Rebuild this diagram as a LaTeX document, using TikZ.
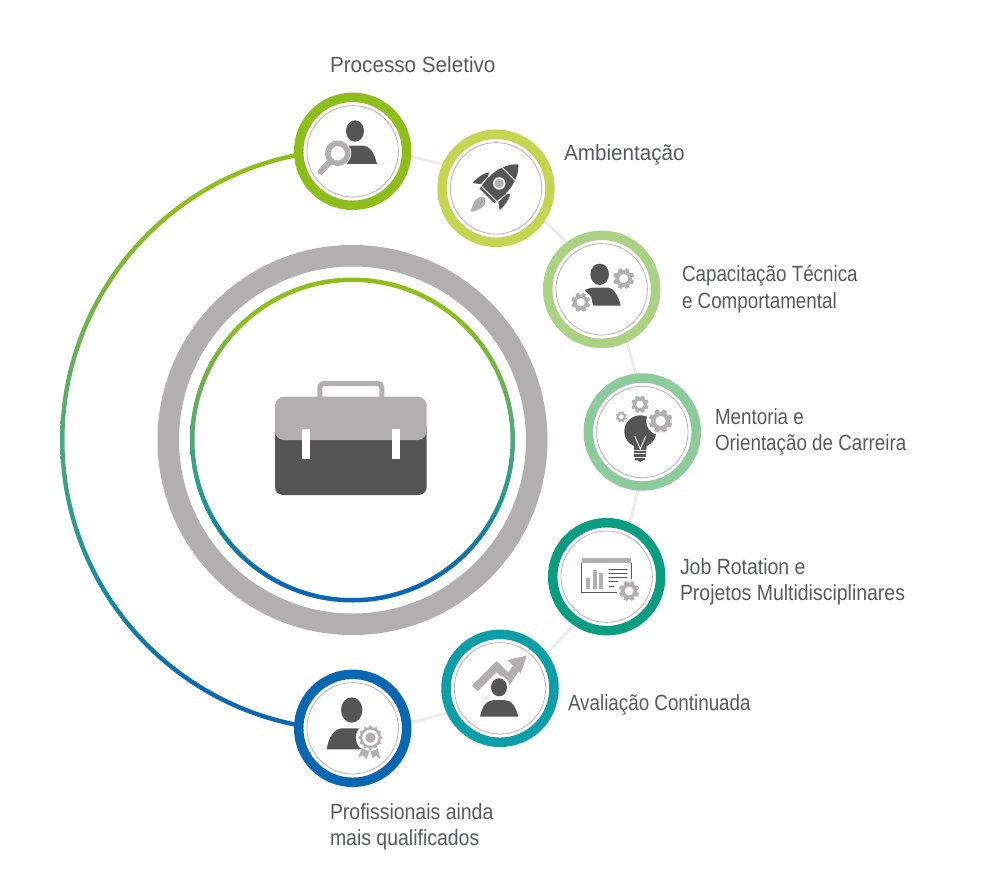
\documentclass[tikz,border=0pt]{standalone}
\usepackage{fontspec}
\setmainfont[FakeStretch=0.855]{Liberation Sans}
\newfontfamily\condB[FakeStretch=0.885]{Liberation Sans}
\newfontfamily\condC[FakeStretch=0.94]{Liberation Sans}
\usetikzlibrary{backgrounds,calc}
\definecolor{txt}{HTML}{58595B}
\definecolor{dk}{HTML}{565556}
\definecolor{gy}{HTML}{B1AFB0}
\definecolor{thin}{HTML}{B5B5B5}
\definecolor{trk}{HTML}{EAEAEA}
\definecolor{c1}{HTML}{8DBE1C}
\definecolor{c2}{HTML}{C4D552}
\definecolor{c3}{HTML}{ABD184}
\definecolor{c4}{HTML}{8DCB9D}
\definecolor{c5}{HTML}{0A9D80}
\definecolor{c6}{HTML}{0E9EA8}
\definecolor{c7}{HTML}{0B67B0}
\definecolor{mid}{HTML}{4FA87B}
\definecolor{midb}{HTML}{1F9596}
\pgfdeclareverticalshading{ringgrad}{100bp}{
 color(0bp)=(c7); color(25bp)=(c7); color(29bp)=(c7); color(40bp)=(midb);
 color(50bp)=(mid); color(70bp)=(c1); color(75bp)=(c1); color(100bp)=(c1)}
\tikzset{
 ringnode/.style={circle,draw=#1,line width=9.5pt,fill=white,minimum size=108pt,inner sep=0pt,outer sep=0pt},
 thinnode/.style={circle,draw=thin,line width=0.8pt,minimum size=91.4pt,inner sep=0pt,outer sep=0pt},
 track/.style={draw=trk,line width=2.8pt},
 arcstep/.style={bend left=10,looseness=0.2},
 labelnode/.style={anchor=west,inner sep=0pt,outer sep=0pt,align=left,text=txt,font=\fontsize{22}{26.5}\selectfont},
}
% gear: x, y, radius, colour
\newcommand{\gearicon}[4]{%
 \begin{scope}[shift={(#1,#2)},scale=#3]
  \fill[white] (0,0) circle (1.22);
  \fill[#4] (0,0) circle (0.8);
  \foreach \ang in {0,45,...,315}{\fill[#4,rotate=\ang+22.5] (-.24,.7) -- (-.17,1) -- (.17,1) -- (.24,.7) -- cycle;}
  \fill[white] (0,0) circle (.44);
 \end{scope}}
\begin{document}
\begin{tikzpicture}[x=1pt,y=1pt]
\useasboundingbox (0,-869) rectangle (1000,0);
\coordinate (hub) at (352.5,-440);
% central rings
\fill[gy,even odd rule] (hub) circle (195) (hub) circle (173.5);
\shade[shading=ringgrad,even odd rule] (hub) circle (162.5) (hub) circle (158);
% big gradient arc
\shade[shading=ringgrad] ($(hub)+(90:292.4)$) arc[start angle=90,end angle=270,radius=292.4]
  -- ($(hub)+(270:288)$) arc[start angle=270,end angle=90,radius=288] -- cycle;
% step circles
\node[ringnode=c1] (p1) at (352.7,-151.3) {};
\node[ringnode=c2] (p2) at (496,-188.3) {};
\node[ringnode=c3] (p3) at (601.7,-289.3) {};
\node[ringnode=c4] (p4) at (642.3,-432) {};
\node[ringnode=c5] (p5) at (606.7,-576.7) {};
\node[ringnode=c6] (p6) at (500,-688.3) {};
\node[ringnode=c7] (p7) at (352.7,-728.3) {};
\foreach \n in {1,...,7}{\node[thinnode] (t\n) at (p\n) {};}
\begin{pgfonlayer}{background}
 \draw[track] (p1) to[arcstep] (p2);
 \draw[track] (p2) to[arcstep] (p3);
 \draw[track] (p3) to[arcstep] (p4);
 \draw[track] (p4) to[arcstep] (p5);
 \draw[track] (p5) to[arcstep] (p6);
 \draw[track] (p6) to[arcstep] (p7);
\end{pgfonlayer}
% labels
\node[labelnode] (l1) at (330,-65) {\condC Processo Seletivo};
\node[labelnode] (l2) at (564,-154.5) {\condC Ambientação};
\node[labelnode] (l3) at (682,-289) {Capacitação Técnica\\e Comportamental};
\node[labelnode] (l4) at (715,-432) {Mentoria e\\Orientação de Carreira};
\node[labelnode] (l5) at (680,-582) {\condB Job Rotation e\\\condB Projetos Multidisciplinares};
\node[labelnode] (l6) at (568,-704.5) {Avaliação Continuada};
\node[labelnode] (l7) at (330,-827) {\condB Profissionais ainda\\\condB mais qualificados};
% briefcase
\draw[gy,line width=5pt,rounded corners=4pt] (319.8,-398) -- (319.8,-383.5) -- (381.8,-383.5) -- (381.8,-398);
\fill[dk,rounded corners=8pt] (275,-420) rectangle (426.7,-495);
\fill[gy,rounded corners=9pt] (275,-396.7) rectangle (426.7,-440);
\fill[white] (302.3,-429) rectangle (310,-459.3);
\fill[white] (392.3,-429) rectangle (400,-459.3);
% icon 1
\begin{scope}[shift={(p1)}]
 \fill[dk] (2.3,20.3) ellipse (9 and 10.7);
 \fill[dk] (-6,5.5) -- (10,5.7) .. controls (18,5) and (22,-3) .. (24.3,-12.7) -- (-6,-12.7) -- cycle;
 \fill[white] (-15,-2) circle (13.5);
 \draw[gy,line width=5.5pt] (-15,-2) circle (10);
 \draw[gy,line width=6pt,line cap=round] (-23,-10.5) -- (-32,-20.5);
\end{scope}
% icon 2 rocket
\begin{scope}[shift={(p2)}]
 \begin{scope}[shift={(-9.2,-7.5)},rotate=-45]
  \fill[dk] (-12.5,4) -- (-19,-1) .. controls (-20,7) and (-18,14) .. (-15,18) -- (-13,15) -- cycle;
  \fill[dk] (12.5,4) -- (19,-1) .. controls (20,7) and (18,14) .. (15,18) -- (13,15) -- cycle;
  \fill[dk] (-10.5,0) -- (-10.5,3) .. controls (-13.5,14) and (-12,34) .. (0,44.5) .. controls (12,34) and (13.5,14) .. (10.5,3) -- (10.5,0) -- cycle;
  \draw[white,line width=.9pt] (-12,3) -- (12,3);
  \draw[white,line width=.9pt] (-12,31) -- (12,31);
  \fill[white] (0,17.5) circle (6.2);
  \fill[gy] (0,17.5) circle (4.7);
  \fill[gy] (0,-3) .. controls (8,-6) and (5,-15) .. (0,-22.7) .. controls (-5,-15) and (-8,-6) .. (0,-3) -- cycle;
 \end{scope}
\end{scope}
% icon 3
\begin{scope}[shift={(p3)}]
 \fill[dk] (-2,15) ellipse (9.3 and 10.7);
 \fill[dk] (-16.7,-0.5) .. controls (-12,1.5) and (-8,1.8) .. (-6,1.8) -- (6,1.8) .. controls (13,1) and (17,-8) .. (19,-16.3) -- (-8,-16.3) -- cycle;
 \gearicon{22}{10.7}{10.5}{gy}
 \gearicon{-21}{-13}{9.5}{gy}
\end{scope}
% icon 4
\begin{scope}[shift={(p4)}]
 \fill[dk] (-2,0.7) circle (16);
 \fill[dk] (-9,-10) -- (5,-10) -- (4,-18) -- (-8,-18) -- cycle;
 \gearicon{18.3}{11}{11.7}{gy}
 \gearicon{-2.3}{27.7}{8.7}{gy}
 \gearicon{-21}{15.3}{5.5}{gy}
 \draw[white,line width=.9pt] (-7.5,-4) -- (-2,-17) -- (3.5,-4);
 \fill[dk] (-8,-18.5) rectangle (4,-21);
 \fill[dk] (-8,-22) rectangle (4,-24.5);
 \fill[dk] (-7,-25.5) rectangle (3,-28);
 \fill[dk] (-5,-28) -- (1,-28) -- (-2,-30) -- cycle;
\end{scope}
% icon 5
\begin{scope}[shift={(p5)}]
 \fill[gy] (-25,18.3) rectangle (24.3,13.3);
 \draw[dk,line width=.8pt] (-25,13.3) -- (-25,-15.7) -- (14,-15.7);
 \draw[dk,line width=.8pt] (24.3,13.3) -- (24.3,-8);
 \fill[gy] (-20.5,-1.7) rectangle (-16.7,-12.7);
 \fill[gy] (-13.3,6.7) rectangle (-10,-12.7);
 \fill[gy] (-7.3,3.3) rectangle (-3.3,-12.7);
 \foreach \yy/\xe in {7.3/20,3.3/20,-0.7/20,-5/11.7,-10/7}{\draw[dk,line width=.9pt] (2.3,\yy) -- (\xe,\yy);}
 \gearicon{22.3}{-14.3}{10}{gy}
\end{scope}
% icon 6
\begin{scope}[shift={(p6)}]
 \draw[gy,line width=8pt] (-25,0) -- (-3.3,21.7) -- (9,9.5) -- (16,20);
 \fill[gy] (26.7,32.7) -- (7.3,28.3) -- (20.7,15) -- cycle;
 \fill[white] (-1,1) ellipse (10.5 and 11.5);
 \fill[dk] (-1,1) ellipse (8 and 9);
 \fill[dk] (-20,-28.3) .. controls (-18,-18) and (-13,-11.7) .. (-6,-11.7) -- (4,-11.7) .. controls (11,-11.7) and (16,-18) .. (18.3,-28.3) -- cycle;
\end{scope}
% icon 7
\begin{scope}[shift={(p7)}]
 \fill[dk] (-1,18.3) ellipse (10.7 and 12.7);
 \fill[dk] (-26,-21) .. controls (-24,-8) and (-18,0) .. (-10,0) -- (10,0) .. controls (18,0) and (24,-8) .. (26,-21) -- cycle;
 \fill[white] (17.7,-9.3) circle (14.5);
 \fill[white] (6,-32) -- (15,-14) -- (28,-14) -- (31,-32) -- cycle;
 \fill[gy] (11,-15) -- (5.5,-29) -- (10.5,-27) -- (13.5,-31) -- (19,-18) -- cycle;
 \fill[gy] (24,-15) -- (27.5,-31) -- (23.5,-27.5) -- (19.5,-30) -- (17,-18) -- cycle;
 \fill[white] (17.7,-9.3) circle (13.2);
 \fill[gy] (17.7,-9.3) circle (10.5);
 \foreach \ang in {0,30,...,330}{\fill[gy,shift={(17.7,-9.3)},rotate=\ang] (-2,10) -- (0,12.4) -- (2,10) -- cycle;}
 \fill[white] (17.7,-9.3) circle (8);
 \fill[gy] (17.7,-9.3) circle (5.2);
\end{scope}
\end{tikzpicture}
\end{document}
